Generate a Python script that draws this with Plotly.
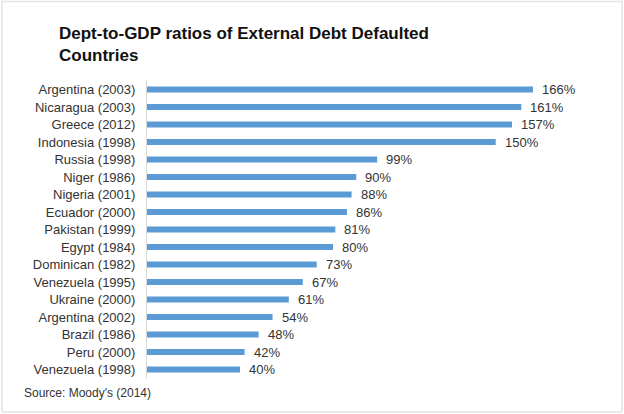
import plotly.graph_objects as go

# Debt-to-GDP ratio at default, by country and year of default
countries = [
    "Argentina (2003)", "Nicaragua (2003)", "Greece (2012)", "Indonesia (1998)",
    "Russia (1998)", "Niger (1986)", "Nigeria (2001)", "Ecuador (2000)",
    "Pakistan (1999)", "Egypt (1984)", "Dominican (1982)", "Venezuela (1995)",
    "Ukraine (2000)", "Argentina (2002)", "Brazil (1986)", "Peru (2000)",
    "Venezuela (1998)",
]
ratios = [166, 161, 157, 150, 99, 90, 88, 86, 81, 80, 73, 67, 61, 54, 48, 42, 40]

BAR_COLOR = "#5B9BD5"
TEXT_COLOR = "#333333"
FONT = "Liberation Sans, Arial, sans-serif"

W, H = 624, 414
ML, MR, MT, MB = 147, 12, 80, 35
plot_w = W - ML - MR
plot_h = H - MT - MB

fig = go.Figure(
    go.Bar(
        x=ratios,
        y=countries,
        orientation="h",
        marker=dict(color=BAR_COLOR, line=dict(width=0)),
        hoverinfo="x+y",
    )
)

# value labels at the end of each bar
for c, v in zip(countries, ratios):
    fig.add_annotation(
        x=v, y=c, text=f"{v}%", showarrow=False,
        xanchor="left", yanchor="middle", xshift=7,
        font=dict(family=FONT, size=13, color=TEXT_COLOR),
    )

# source note
fig.add_annotation(
    x=(22 - ML) / plot_w, y=(H - MB - 393) / plot_h,
    xref="paper", yref="paper", text="Source: Moody's (2014)",
    showarrow=False, xanchor="left", yanchor="middle",
    font=dict(family=FONT, size=12, color=TEXT_COLOR),
)

# chart title, two lines, left aligned
fig.add_annotation(
    x=(57 - ML) / plot_w, y=(H - MB - 22) / plot_h,
    xref="paper", yref="paper",
    text="<b>Dept-to-GDP ratios of External Debt Defaulted<br>Countries</b>",
    showarrow=False, xanchor="left", yanchor="top", align="left",
    font=dict(family=FONT, size=17, color="#111111"),
)

# faint frame around the whole chart
fig.add_shape(
    type="rect", xref="paper", yref="paper",
    x0=(2 - ML) / plot_w, x1=(622 - ML) / plot_w,
    y0=(H - MB - 412) / plot_h, y1=(H - MB - 1.5) / plot_h,
    line=dict(color="#e3e3e3", width=1.5), fillcolor="rgba(0,0,0,0)",
    layer="below",
)

fig.update_layout(
    width=W, height=H,
    margin=dict(l=ML, r=MR, t=MT, b=MB),
    paper_bgcolor="white", plot_bgcolor="white",
    bargap=0.66,
    showlegend=False,
    xaxis=dict(
        range=[0, 200], visible=False, fixedrange=True,
    ),
    yaxis=dict(
        autorange="reversed",
        showline=True, linecolor="#d9d9d9", linewidth=1,
        showgrid=False, zeroline=False,
        ticks="", ticklabelstandoff=8,
        tickfont=dict(family=FONT, size=13, color=TEXT_COLOR),
        fixedrange=True,
    ),
)

fig.write_html("out.html")
